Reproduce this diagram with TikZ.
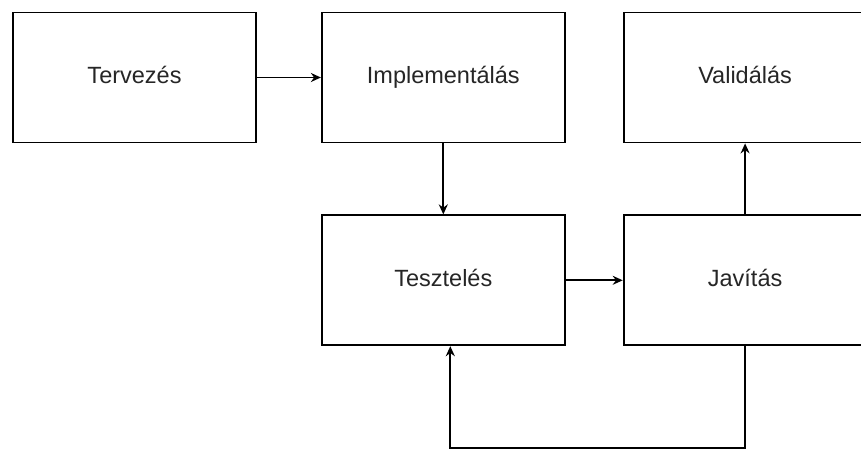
\documentclass[tikz,border=0pt]{standalone}
\usepackage{fontspec}
\setmainfont{Liberation Sans}
\usetikzlibrary{positioning}
\usetikzlibrary{arrows.meta}

\begin{document}
\begin{tikzpicture}[
        x=1pt, y=-1pt,
        >={Stealth[length=10pt,width=9pt]},
        line width=1.8pt,
        stagebox/.style={rectangle, draw=black, line width=1.8pt, minimum width=243pt, minimum height=130pt, inner sep=0pt, text height=17pt, text depth=5pt, font=\fontsize{23.5}{27}\selectfont, text=black!85}
    ]

        \useasboundingbox (0,0) rectangle (861,457);

        \node [stagebox] (Terv) at (134.5,77.5) {Tervezés};
        \node [stagebox] (Impl) [right=64pt of Terv] {Implementálás};
        \node [stagebox] (Valid) [right=57pt of Impl] {Validálás};
        \node [stagebox] (Teszt) [below=71pt of Impl] {Tesztelés};
        \node [stagebox] (Jav) [below=71pt of Valid] {Javítás};

        % Forward arrows
        \draw[->] (Terv) -- (Impl);
        \draw[->] (Impl) -- (Teszt);
        \draw[->] (Teszt) -- (Jav);
        \draw[->] (Jav) -- (Valid);

        % Back to testing
        \coordinate (LoopBend) at (748,448);
        \draw[->] (Jav.south) -- (Jav.south |- LoopBend) -| ([xshift=7pt]Teszt.south);

    \end{tikzpicture}
\end{document}
